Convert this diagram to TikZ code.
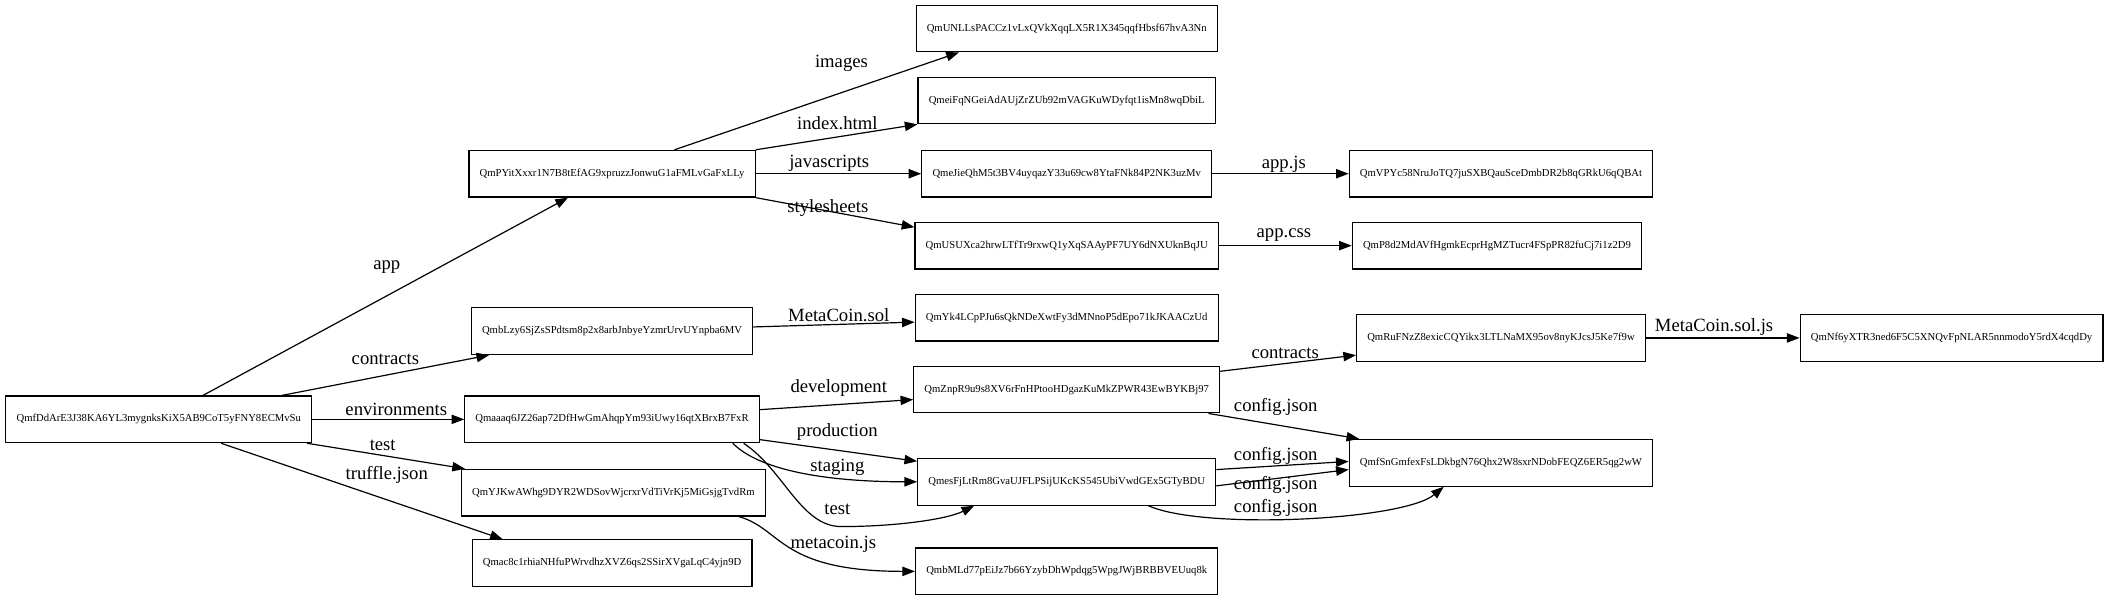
\documentclass[tikz,border=0pt]{standalone}
\usepackage{fontspec}
\setmainfont{Liberation Serif}
\usetikzlibrary{arrows.meta,calc}
\begin{document}
\begin{tikzpicture}[x=1.0178pt,y=-1.0178pt,
 box/.style={draw,line width=0.9pt,minimum height=35pt,inner xsep=8pt,font=\fontsize{8}{9.6}\selectfont},
 lbl/.style={font=\fontsize{14}{16.8}\selectfont,inner sep=0pt},
 conn/.style={line width=0.9pt,-{Triangle[length=9.5pt,width=7pt]}}]
\useasboundingbox (0,0) rectangle (1568,441);
% nodes
\node[box] (root) at (117,309) {QmfDdArE3J38KA6YL3mygnksKiX5AB9CoT5yFNY8ECMvSu};
\node[box] (pyit) at (451,128) {QmPYitXxxr1N7B8tEfAG9xpruzzJonwuG1aFMLvGaFxLLy};
\node[box] (lzy) at (451,244) {QmbLzy6SjZsSPdtsm8p2x8arbJnbyeYzmrUrvUYnpba6MV};
\node[box] (aaa) at (451,309) {Qmaaaq6JZ26ap72DfHwGmAhqpYm93iUwy16qtXBrxB7FxR};
\node[box] (yjk) at (452,363) {QmYJKwAWhg9DYR2WDSovWjcrxrVdTiVrKj5MiGsjgTvdRm};
\node[box] (ac8) at (451,415) {Qmac8c1rhiaNHfuPWrvdhzXVZ6qs2SSirXVgaLqC4yjn9D};
\node[box] (unl) at (786,21) {QmUNLLsPACCz1vLxQVkXqqLX5R1X345qqfHbsf67hvA3Nn};
\node[box] (eif) at (786,74) {QmeiFqNGeiAdAUjZrZUb92mVAGKuWDyfqt1isMn8wqDbiL};
\node[box] (eji) at (786,128) {QmeJieQhM5t3BV4uyqazY33u69cw8YtaFNk84P2NK3uzMv};
\node[box] (usu) at (786,181) {QmUSUXca2hrwLTfTr9rxwQ1yXqSAAyPF7UY6dNXUknBqJU};
\node[box] (yk4) at (786,234) {QmYk4LCpPJu6sQkNDeXwtFy3dMNnoP5dEpo71kJKAACzUd};
\node[box] (znp) at (786,287) {QmZnpR9u9s8XV6rFnHPtooHDgazKuMkZPWR43EwBYKBj97};
\node[box] (esf) at (786,355) {QmesFjLtRm8GvaUJFLPSijUKcKS545UbiVwdGEx5GTyBDU};
\node[box] (bml) at (786,421) {QmbMLd77pEiJz7b66YzybDhWpdqg5WpgJWjBRBBVEUuq8k};
\node[box] (vpy) at (1106,128) {QmVPYc58NruJoTQ7juSXBQauSceDmbDR2b8qGRkU6qQBAt};
\node[box] (p8d) at (1103,181) {QmP8d2MdAVfHgmkEcprHgMZTucr4FSpPR82fuCj7i1z2D9};
\node[box] (ruf) at (1106,249) {QmRuFNzZ8exicCQYikx3LTLNaMX95ov8nyKJcsJ5Ke7f9w};
\node[box] (fsn) at (1106,341) {QmfSnGmfexFsLDkbgN76Qhx2W8sxrNDobFEQZ6ER5qg2wW};
\node[box] (nf6) at (1438,249) {QmNf6yXTR3ned6F5C5XNQvFpNLAR5nnmodoY5rdX4cqdDy};
\coordinate (tmid) at (620,388);
% edges
\draw[conn] (root) -- (pyit);
\draw[conn] (root) -- (lzy);
\draw[conn] (root) -- (aaa);
\draw[conn] (root) -- (yjk);
\draw[conn] ($(root.south)+(46,0)$) -- ($(ac8.north west)+(23,0)$);
\draw[conn] ($(pyit.north)+(46,0)$) -- ($(unl.south west)+(32,0)$);
\draw[conn] (pyit.north east) -- (eif.south west);
\draw[conn] (pyit) -- (eji);
\draw[conn] (pyit.south east) -- ($(usu.north west)+(0,4)$);
\draw[conn] (lzy) -- (yk4);
\draw[conn] (aaa) -- (znp);
\draw[conn] (aaa) -- (esf);
\draw[conn] ($(aaa.south east)+(-20,0)$) .. controls +(25,25) and +(-45,0) .. (esf.west);
\draw[conn] ($(aaa.south east)+(-12,0)$) .. controls +(30,20) and +(-30,0) .. (tmid) .. controls +(40,0) and +(-20,10) .. ($(esf.south west)+(42,0)$);
\draw[conn] ($(yjk.south east)+(-20,0)$) .. controls +(32,9) and +(-100,0) .. (bml.west);
\draw[conn] (eji) -- (vpy);
\draw[conn] (usu) -- (p8d);
\draw[conn] (znp) -- (ruf);
\draw[conn] (znp) -- (fsn);
\draw[conn] ($(esf.east)+(0,-9)$) -- ($(fsn.west)+(0,-1)$);
\draw[conn] ($(esf.east)+(0,3)$) -- ($(fsn.west)+(0,5)$);
\draw[conn] ($(esf.south east)+(-50,0)$) .. controls +(40,18) and +(-30,25) .. ($(fsn.south west)+(70,0)$);
\draw[conn] (ruf) -- (nf6);
% labels
\node[lbl] (l1) at (285,197) {app};
\node[lbl] (l2) at (284,265) {contracts};
\node[lbl] (l3) at (292,302) {environments};
\node[lbl] (l4) at (282,328) {test};
\node[lbl] (l5) at (285,350) {truffle.json};
\node[lbl] (l6) at (620,47) {images};
\node[lbl] (l7) at (617,91) {index.html};
\node[lbl] (l8) at (611,120) {javascripts};
\node[lbl] (l9) at (610,153) {stylesheets};
\node[lbl] (l10) at (618,232) {MetaCoin.sol};
\node[lbl] (l11) at (618,286) {development};
\node[lbl] (l12) at (617,318) {production};
\node[lbl] (l13) at (617,344) {staging};
\node[lbl] (l14) at (617,375) {test};
\node[lbl] (l15) at (614,401) {metacoin.js};
\node[lbl] (l16) at (946,121) {app.js};
\node[lbl] (l17) at (946,173) {app.css};
\node[lbl] (l18) at (947,260) {contracts};
\node[lbl] (l19) at (940,300) {config.json};
\node[lbl] (l20) at (940,336) {config.json};
\node[lbl] (l21) at (940,357) {config.json};
\node[lbl] (l22) at (940,374) {config.json};
\node[lbl] (l23) at (1263,241) {MetaCoin.sol.js};
\end{tikzpicture}
\end{document}
